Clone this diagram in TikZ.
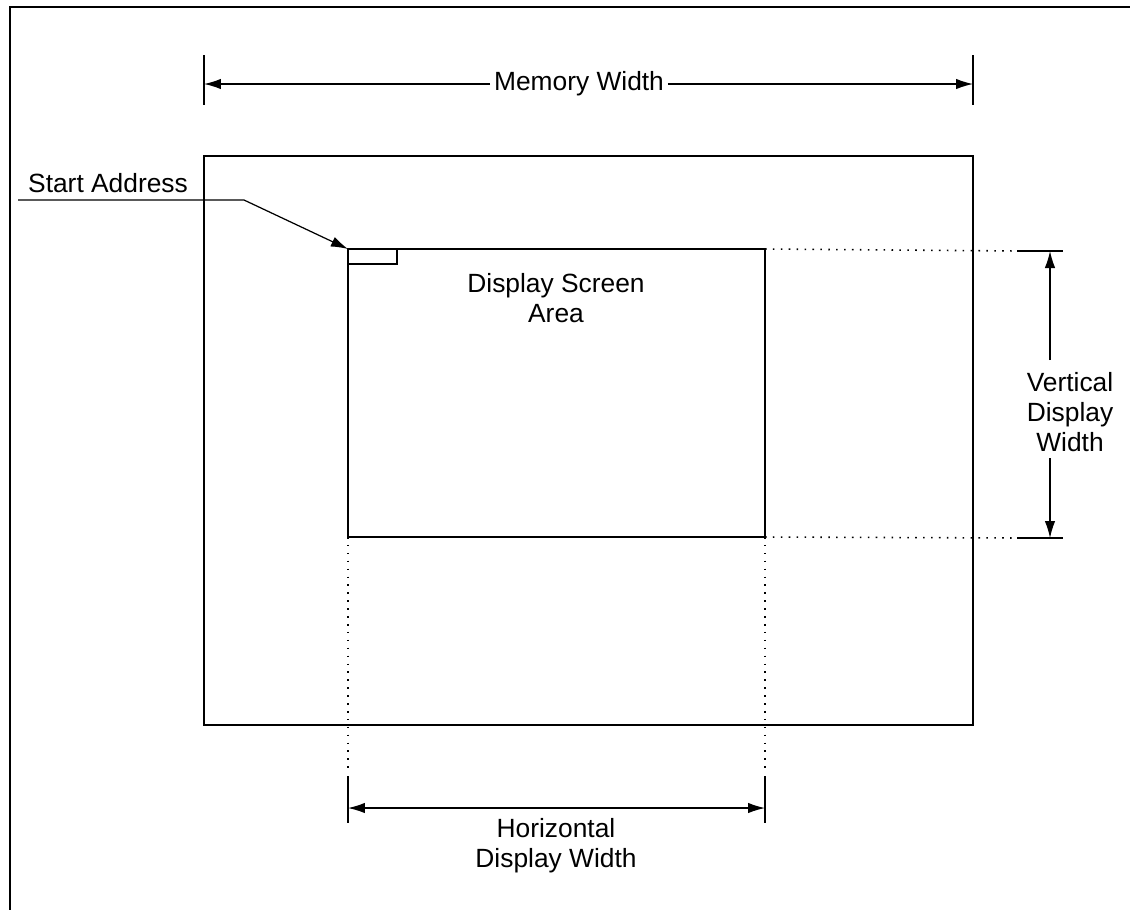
\documentclass[tikz,border=0pt]{standalone}
\usepackage{fontspec}
\setmainfont{Liberation Sans}
\usetikzlibrary{arrows.meta}
\begin{document}
\begin{tikzpicture}[x=0.02cm,y=-0.02cm,
  thickline/.style={line width=1.6pt},
  thinline/.style={line width=0.7pt},
  dotline/.style={line width=0.9pt, dash pattern=on 0.9pt off 3.6pt},
  dimarrow/.style={thinline,-{Latex[length=3.4mm,width=2.1mm]}},
  lbl/.style={font=\fontsize{15}{17}\selectfont, inner sep=1pt, align=center}]
\useasboundingbox (0,0) rectangle (1130,910);
% outer frame (top and left)
\coordinate (fbl) at (10,910);
\coordinate (ftl) at (10,7);
\coordinate (ftr) at (1130,7);
\draw[thickline] (fbl) -- (ftl) -- (ftr);

% memory box
\coordinate (memTL) at (204,156);
\coordinate (memBR) at (973,725);
\draw[thickline] (memTL) rectangle (memBR);

% display area
\coordinate (dTL) at (348,249);
\coordinate (dTR) at (765,249);
\coordinate (dBL) at (348,537);
\coordinate (dBR) at (765,537);
\draw[thickline] (dTL) rectangle (dBR);
\coordinate (sbox) at (397,264);
\draw[line width=1.1pt] (dTL) rectangle (sbox);

\node[lbl] (area) at (556,298) {Display Screen\\Area};

% memory width dimension
\coordinate (mw1a) at (204,55);
\coordinate (mw1b) at (204,105);
\coordinate (mw2a) at (973,55);
\coordinate (mw2b) at (973,105);
\draw[thinline] (mw1a) -- (mw1b);
\draw[thinline] (mw2a) -- (mw2b);
\node[lbl, inner sep=2pt] (mw) at (579,84) {Memory Width};
\coordinate (mwl) at (204,84);
\coordinate (mwr) at (973,84);
\draw[dimarrow] (mw.west) -- (mwl);
\draw[dimarrow] (mw.east) -- (mwr);

% start address
\node[lbl, anchor=base] (sa) at (108,192) {Start Address};
\coordinate (sa0) at (18,200);
\coordinate (sa1) at (244,200);
\draw[thinline,-{Latex[length=3.4mm,width=2.1mm]}] (sa0) -- (sa1) -- (dTL);

% vertical display width
\coordinate (vt1) at (1017,251);
\coordinate (vt2) at (1063,251);
\coordinate (vb1) at (1017,538);
\coordinate (vb2) at (1063,538);
\draw[dotline] (dTR) -- (vt1);
\draw[dotline] (dBR) -- (vb1);
\draw[thinline] (vt1) -- (vt2);
\draw[thinline] (vb1) -- (vb2);
\node[lbl] (vdw) at (1070,412) {Vertical\\Display\\Width};
\coordinate (va0) at (1050,360);
\coordinate (va1) at (1050,251);
\coordinate (vb0) at (1050,458);
\coordinate (vbb) at (1050,538);
\draw[dimarrow] (va0) -- (va1);
\draw[dimarrow] (vb0) -- (vbb);

% horizontal display width
\coordinate (hl1) at (348,770);
\coordinate (hl2) at (348,776);
\coordinate (hl3) at (348,823);
\coordinate (hr1) at (765,770);
\coordinate (hr2) at (765,776);
\coordinate (hr3) at (765,823);
\draw[dotline] (dBL) -- (hl1);
\draw[dotline] (dBR) -- (hr1);
\draw[thinline] (hl2) -- (hl3);
\draw[thinline] (hr2) -- (hr3);
\coordinate (hal) at (348,808);
\coordinate (har) at (765,808);
\coordinate (hmid) at (556,808);
\draw[dimarrow] (hmid) -- (hal);
\draw[dimarrow] (hmid) -- (har);
\node[lbl] (hdw) at (556,846) {Horizontal\\Display Width};
\end{tikzpicture}
\end{document}
